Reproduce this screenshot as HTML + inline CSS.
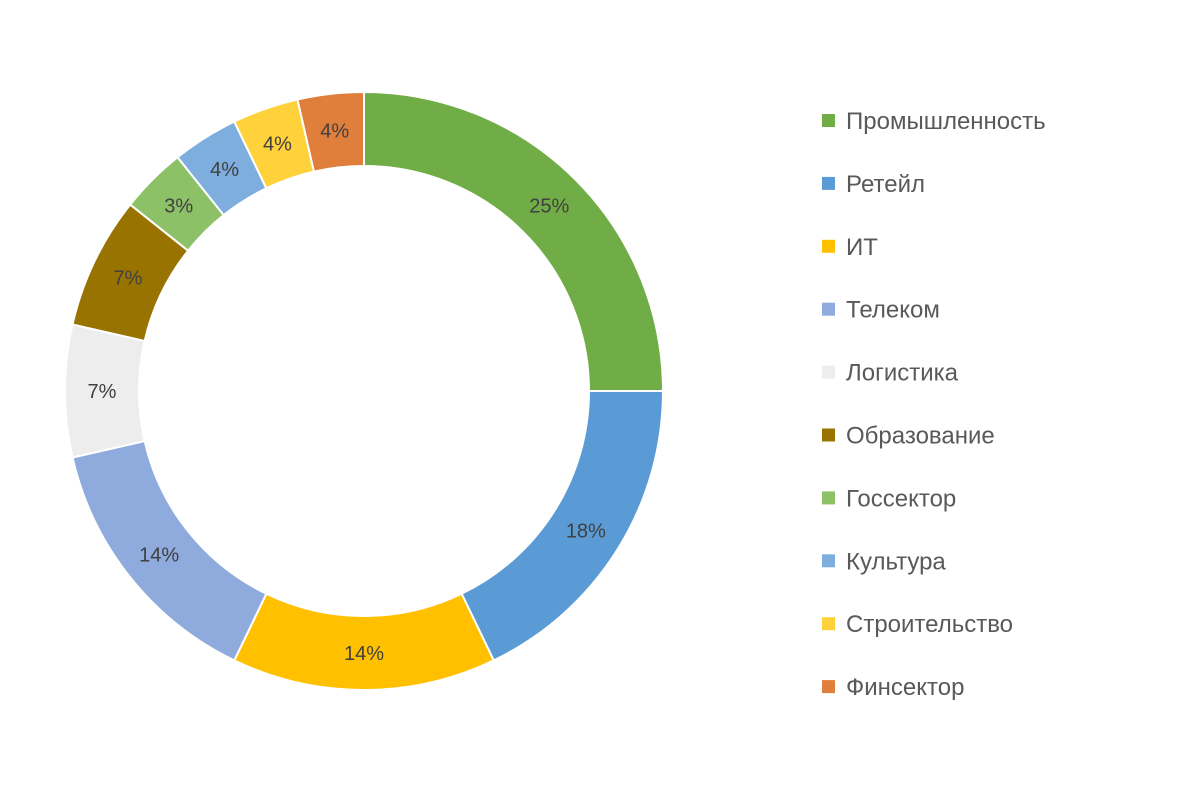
<!DOCTYPE html>
<html><head><meta charset="utf-8"><style>
body{margin:0;background:#fff;}
svg{display:block;font-family:"Liberation Sans","DejaVu Sans",sans-serif;}
</style></head><body>
<svg id="chart" width="1200" height="805"></svg>
<script>
const categories=["Промышленность","Ретейл","ИТ","Телеком","Логистика","Образование","Госсектор","Культура","Строительство","Финсектор"];
const values=[7,5,4,4,2,2,1,1,1,1];
const printedLabels=["25%","18%","14%","14%","7%","7%","3%","4%","4%","4%"];
const colors=["#70AD47","#5B9BD5","#FFC000","#8FAADC","#EDEDED","#997300","#8CC168","#7DAEDE","#FFD13B","#E07E3C"];
const NS="http://www.w3.org/2000/svg";
const svg=document.getElementById('chart');
const cx=364,cy=391,R=299,r=225;
const total=values.reduce((a,b)=>a+b,0);
function pt(rad,a){return [cx+rad*Math.sin(a),cy-rad*Math.cos(a)];}
let acc=0;
const gs=document.createElementNS(NS,'g');


svg.appendChild(gs);
values.forEach((v,i)=>{
  const a0=acc/total*2*Math.PI;acc+=v;const a1=acc/total*2*Math.PI;
  const large=(a1-a0)>Math.PI?1:0;
  const p0=pt(R,a0),p1=pt(R,a1),q1=pt(r,a1),q0=pt(r,a0);
  const p=document.createElementNS(NS,'path');
  p.setAttribute('d',`M${p0[0]},${p0[1]}A${R},${R} 0 ${large} 1 ${p1[0]},${p1[1]}L${q1[0]},${q1[1]}A${r},${r} 0 ${large} 0 ${q0[0]},${q0[1]}Z`);
  p.setAttribute('fill',colors[i]);p.setAttribute('stroke','#fff');p.setAttribute('stroke-width','2');
  
  
  gs.appendChild(p);
  const m=pt((R+r)/2,(a0+a1)/2);
  const t=document.createElementNS(NS,'text');
  t.setAttribute('x',m[0]);t.setAttribute('y',m[1]+7);t.setAttribute('text-anchor','middle');
  t.setAttribute('font-size','20');t.setAttribute('fill','#404040');
  t.textContent=printedLabels[i];
  
  
  svg.appendChild(t);
});
categories.forEach((c,i)=>{
  const y=120+i*62.9;
  const g=document.createElementNS(NS,'g');
  
  
  const s=document.createElementNS(NS,'rect');
  s.setAttribute('x',822);s.setAttribute('y',y-6);s.setAttribute('width',13);s.setAttribute('height',13);s.setAttribute('fill',colors[i]);
  
  
  const t=document.createElementNS(NS,'text');
  t.setAttribute('x',846);t.setAttribute('y',y+9);t.setAttribute('font-size','24');t.setAttribute('fill','#595959');
  t.textContent=c;
  
  
  g.appendChild(s);g.appendChild(t);svg.appendChild(g);
});
</script>
</body></html>
